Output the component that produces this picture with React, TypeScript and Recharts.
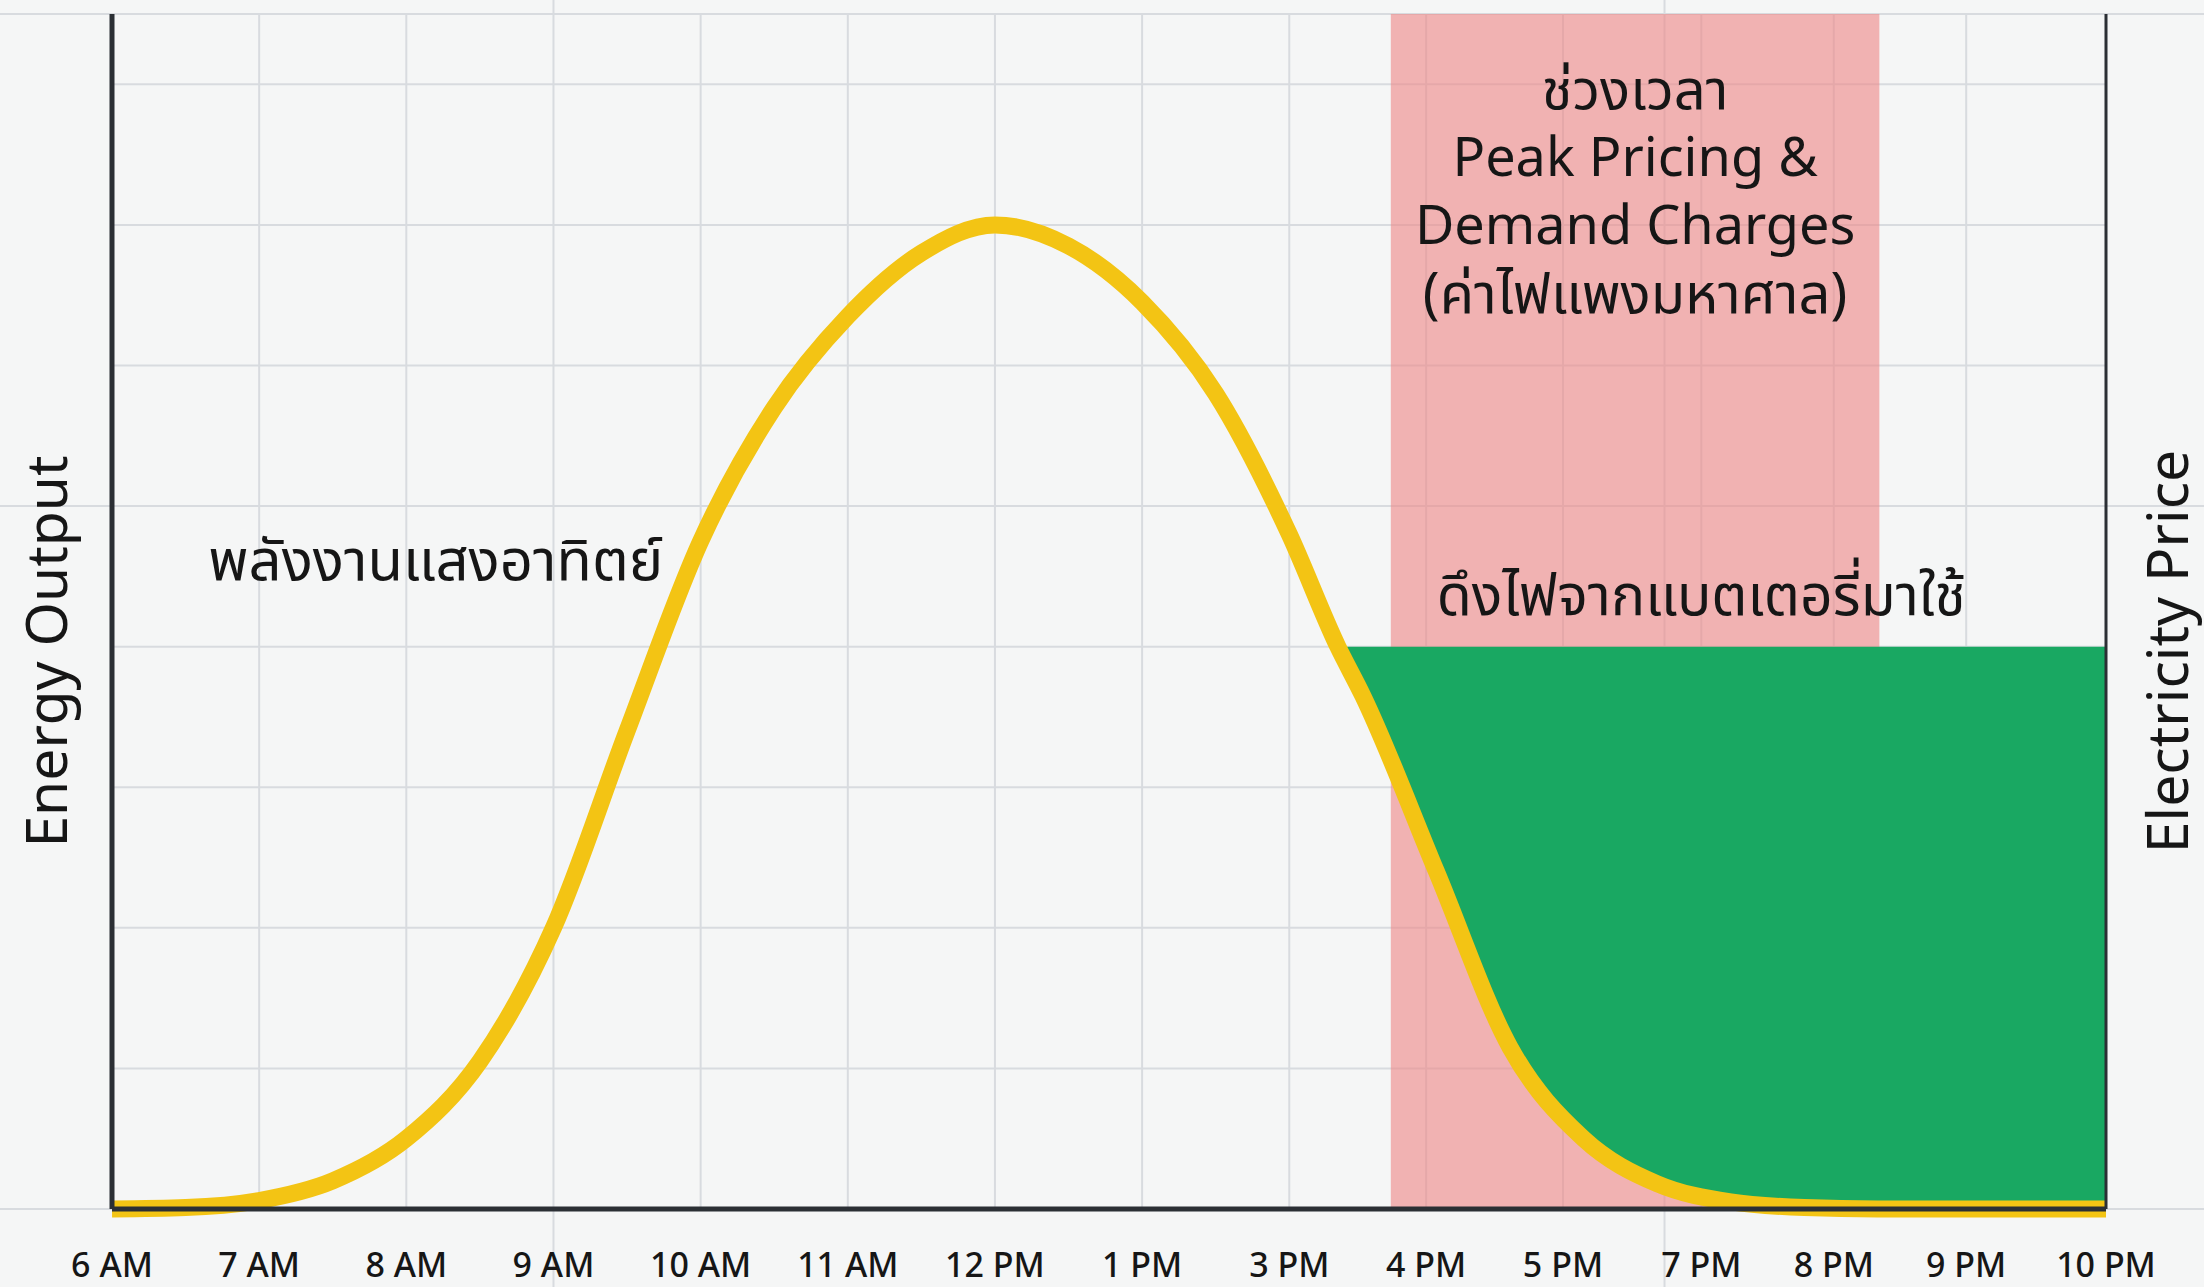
import {
  ComposedChart,
  Line,
  Area,
  XAxis,
  YAxis,
  CartesianGrid,
  ReferenceArea,
  ReferenceDot,
  ReferenceLine,
} from "recharts";

// hour labels and where they sit on the x scale (1 unit = 1 slot; slots after 3 PM are a bit narrower)
const hourLabels = ["6 AM", "7 AM", "8 AM", "9 AM", "10 AM", "11 AM", "12 PM", "1 PM", "3 PM", "4 PM", "5 PM", "7 PM", "8 PM", "9 PM", "10 PM"];
const hourPos = [0, 1, 2, 3, 4, 5, 6, 7, 8, 8.93, 9.86, 10.8, 11.7, 12.6, 13.55];

// solar output
const solarX = [0, 0.5, 1, 1.5, 2, 2.5, 3, 3.5, 4, 4.5, 5, 5.5, 6, 6.5, 7, 7.5, 8, 8.33, 8.5, 9, 9.5, 10, 10.5, 11, 11.5, 12, 13.55];
const solarY = [0, 0.01, 0.06, 0.2, 0.5, 1.05, 2.0, 3.4, 4.75, 5.7, 6.35, 6.8, 7.0, 6.85, 6.45, 5.8, 4.8, 4.0, 3.65, 2.4, 1.15, 0.5, 0.18, 0.05, 0.01, 0, 0];

// battery covers the gap up to this level once solar drops under it
const batteryLevel = 4;
const batteryStart = 8.33;

// peak pricing window
const peakStart = 8.69;
const peakEnd = 12.01;
const peakLines = ["ช่วงเวลา", "Peak Pricing &", "Demand Charges", "(ค่าไฟแพงมหาศาล)"];
const peakSizes = [56, 54, 54, 56];

const xMax = hourPos[hourPos.length - 1];
const yMax = 8.5;
const yTicks = [0, 1, 2, 3, 4, 5, 6, 7, 8, 8.5];

// faint background paper lines that also run past the plot edges
const paperX = [3, 10.55];
const paperY = [0, 5, 8.5];
const pageX: [number, number] = [-0.77, 14.25];
const pageY: [number, number] = [-0.56, 8.62];
const gridX = [...hourPos, 10.55];

const data = solarX.map((x, i) => ({
  x,
  solar: solarY[i],
  battery: x >= batteryStart ? [solarY[i], batteryLevel] : null,
}));

const FONT = "'Noto Sans', 'Open Sans', 'Noto Sans Thai', Loma, Garuda, sans-serif";
const INK = "#161616";
const AXIS = "#2b2f34";
const GRID = "#d8dbdf";

function HourTick({ x, y, payload }: any) {
  const i = hourPos.indexOf(payload.value);
  return (
    <text x={x} y={y} dy={60} textAnchor="middle" fontSize={34} fontWeight={500} fill={INK}>
      {hourLabels[i]}
    </text>
  );
}

function NoTick() {
  return <g />;
}

// rotated axis title; offset = baseline distance from the axis box's left edge
function sideTitle(text: string, offset: number) {
  return (props: any) => {
    const { x, y, height } = props.viewBox;
    const cx = x + offset;
    const cy = y + height / 2 + 40;
    return (
      <text
        x={cx}
        y={cy}
        transform={`rotate(-90 ${cx} ${cy})`}
        textAnchor="middle"
        fontSize={57}
        fill={INK}
      >
        {text}
      </text>
    );
  };
}

function PeakLabel(props: any) {
  const { x, y, width } = props.viewBox;
  const cx = x + width / 2;
  return (
    <g>
      {peakLines.map((t, i) => (
        <text
          key={i}
          x={cx}
          y={y + 73 + i * 68}
          textAnchor="middle"
          dominantBaseline="central"
          fontSize={peakSizes[i]}
          fill={INK}
        >
          {t}
        </text>
      ))}
    </g>
  );
}

// pieces of the paper lines lying outside the plot (inside it the grid draws them)
const paperSegments = [
  ...paperX.flatMap((v) => [
    [{ x: v, y: pageY[0] }, { x: v, y: 0 }],
    [{ x: v, y: yMax }, { x: v, y: pageY[1] }],
  ]),
  ...paperY.flatMap((v) => [
    [{ x: pageX[0], y: v }, { x: 0, y: v }],
    [{ x: xMax, y: v }, { x: pageX[1], y: v }],
  ]),
];

export default function App() {
  return (
    <div
      style={{
        position: "absolute",
        left: 0,
        top: 0,
        width: 2204,
        height: 1287,
        background: "#f5f6f6",
        fontFamily: FONT,
      }}
    >
      <ComposedChart
        width={2204}
        height={1287}
        data={data}
        margin={{ top: 14, right: 0, left: 0, bottom: 0 }}
        style={{ fontFamily: FONT }}
      >
        <CartesianGrid
          stroke={GRID}
          strokeWidth={2}
          horizontalValues={yTicks}
          verticalValues={gridX}
        />
        {paperSegments.map((seg, i) => (
          <ReferenceLine
            key={`paper-${i}`}
            segment={seg as any}
            ifOverflow="visible"
            stroke={GRID}
            strokeWidth={2}
          />
        ))}
        <XAxis
          type="number"
          dataKey="x"
          domain={[0, xMax]}
          ticks={hourPos}
          interval={0}
          height={78}
          tickLine={false}
          tick={<HourTick />}
          axisLine={{ stroke: AXIS, strokeWidth: 5 }}
        />
        <YAxis
          type="number"
          domain={[0, yMax]}
          ticks={yTicks}
          interval={0}
          width={112}
          tick={<NoTick />}
          tickLine={false}
          axisLine={{ stroke: AXIS, strokeWidth: 5 }}
          label={{ content: sideTitle("Energy Output", 67) }}
        />
        <YAxis
          yAxisId="right"
          orientation="right"
          type="number"
          domain={[0, yMax]}
          width={98}
          tick={<NoTick />}
          tickLine={false}
          axisLine={{ stroke: AXIS, strokeWidth: 3 }}
          label={{ content: sideTitle("Electricity Price", 82) }}
        />
        <ReferenceArea
          x1={peakStart}
          x2={peakEnd}
          y1={0}
          y2={yMax}
          fill="#ee8686"
          fillOpacity={0.6}
          stroke="none"
          label={<PeakLabel />}
        />
        <Area
          type="monotone"
          dataKey="battery"
          fill="#19a862"
          fillOpacity={1}
          stroke="none"
          connectNulls={false}
          isAnimationActive={false}
          activeDot={false}
        />
        <Line
          type="monotone"
          dataKey="solar"
          stroke="#f3c414"
          strokeWidth={17}
          dot={false}
          activeDot={false}
          isAnimationActive={false}
        />
        <ReferenceDot
          x={2.2}
          y={4.62}
          r={1}
          fill="none"
          stroke="none"
          label={{ value: "พลังงานแสงอาทิตย์", position: "center", fontSize: 58, fill: INK }}
        />
        <ReferenceDot
          x={10.8}
          y={4.37}
          r={1}
          fill="none"
          stroke="none"
          label={{ value: "ดึงไฟจากแบตเตอรี่มาใช้", position: "center", fontSize: 57, fill: INK }}
        />
      </ComposedChart>
    </div>
  );
}
